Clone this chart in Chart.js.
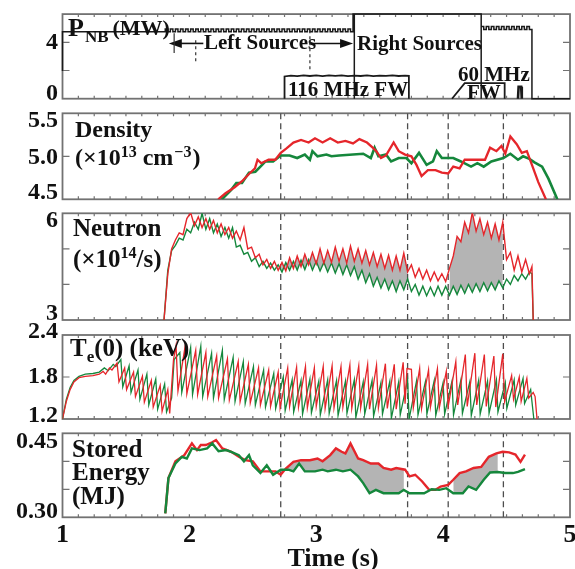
<!DOCTYPE html>
<html><head><meta charset="utf-8">
<script src="https://cdn.jsdelivr.net/npm/chart.js@4/dist/chart.umd.min.js"></script>
<style>
html,body{margin:0;padding:0;background:#fff;}
#wrap{position:relative;width:575px;height:569px;overflow:hidden;background:#fff;}
#wrap canvas{position:absolute;left:0;top:0;}
</style></head><body><div id="wrap"></div>
<script>
// ---------------- DATA ----------------
const timeTicks = [1, 2, 3, 4, 5];
const timeTickLabels = ['1', '2', '3', '4', '5'];
const dashTimes = [2.72, 3.72, 4.04, 4.475];
const fillSpans = [[2.72, 3.72], [4.04, 4.475]];

// NBI power (MW), step-after trace
const pnbTrace = [[1.00,1.96],[1.81,4.75],[1.83,4.95],[1.85,4.75],[1.87,4.95],[1.89,4.75],[1.91,4.95],[1.93,4.75],[1.95,4.95],[1.97,4.75],[1.99,4.95],
[2.01,4.75],[2.03,4.95],[2.05,4.75],[2.07,4.95],[2.09,4.75],[2.11,4.95],[2.13,4.75],[2.15,4.95],[2.17,4.75],[2.19,4.95],[2.21,4.75],[2.23,4.95],[2.25,4.75],[2.27,4.95],[2.29,4.75],
[2.31,4.95],[2.33,4.75],[2.35,4.95],[2.37,4.75],[2.39,4.95],[2.41,4.75],[2.43,4.95],[2.45,4.75],[2.47,4.95],[2.49,4.75],[2.51,4.95],[2.53,4.75],[2.55,4.95],[2.57,4.75],[2.59,4.95],
[2.61,4.75],[2.63,4.95],[2.65,4.75],[2.67,4.95],[2.69,4.75],[2.71,4.95],[2.73,4.75],[2.75,4.95],[2.77,4.75],[2.79,4.95],[2.81,4.75],[2.83,4.95],[2.85,4.75],[2.87,4.95],[2.89,4.75],
[2.91,4.95],[2.93,4.75],[2.95,4.95],[2.97,4.75],[2.99,4.95],[3.01,4.75],[3.03,4.95],[3.05,4.75],[3.07,4.95],[3.09,4.75],[3.11,4.95],[3.13,4.75],[3.15,4.95],[3.17,4.75],[3.19,4.95],
[3.21,4.75],[3.23,4.95],[3.25,4.75],[3.27,4.95],[3.29,4.75],[3.30,6.0],[3.30,0],[3.30,4.77],[4.30,6.0],[4.30,0],[4.30,4.90],
[4.32,5.12],[4.34,4.90],[4.36,5.12],[4.38,4.90],[4.40,5.12],[4.42,4.90],[4.44,5.12],[4.46,4.90],[4.48,5.12],[4.50,4.90],[4.52,5.12],[4.54,4.90],[4.56,5.12],[4.58,4.90],[4.60,5.12],
[4.62,4.90],[4.64,5.12],[4.66,4.90],[4.68,5.12],[4.70,4.90],[4.705,0],[5.00,0]];
const fw116 = [[2.75,0],[2.75,1.58],[2.80,1.64],[2.85,1.60],[2.90,1.66],[2.95,1.61],[3.00,1.65],[3.05,1.60],[3.10,1.66],[3.15,1.62],[3.20,1.65],[3.25,1.60],[3.30,1.64],[3.35,1.61],[3.40,1.66],[3.45,1.60],[3.50,1.64],[3.55,1.62],[3.60,1.65],[3.65,1.61],[3.70,1.64],[3.73,1.62],[3.73,0]];
const fw60 = [[4.07,0],[4.17,1.10],[4.485,1.10],[4.485,0]];
const fw60Spike = [[4.59,0],[4.595,0.85],[4.615,0.85],[4.62,0]];

// Density (1e13 cm^-3)
const densRed = [[2.227,4.50],[2.285,4.57],[2.357,4.64],[2.415,4.71],[2.474,4.80],[2.517,4.86],[2.537,4.96],[2.566,4.92],[2.624,4.96],[2.677,4.96],[2.72,5.04],[2.763,5.09],[2.82,5.16],[2.88,5.19],[2.94,5.16],[2.99,5.21],[3.05,5.16],[3.11,5.21],[3.17,5.16],[3.23,5.18],[3.29,5.15],[3.34,5.20],[3.40,5.16],[3.445,5.10],[3.474,5.06],[3.51,4.98],[3.55,5.01],[3.61,5.16],[3.65,5.06],[3.70,5.02],[3.75,5.00],[3.79,4.90],[3.83,4.77],[3.88,4.84],[3.94,4.84],[3.99,4.81],[4.04,4.80],[4.08,4.88],[4.13,4.86],[4.17,4.96],[4.24,4.96],[4.33,4.96],[4.37,5.10],[4.42,5.06],[4.46,5.12],[4.49,5.03],[4.53,5.23],[4.58,5.14],[4.62,5.04],[4.66,5.06],[4.70,4.90],[4.75,4.70],[4.81,4.50]];
const densGreen = [[2.256,4.50],[2.33,4.61],[2.37,4.69],[2.415,4.69],[2.47,4.81],[2.52,4.82],[2.56,4.88],[2.60,4.94],[2.66,4.94],[2.72,5.01],[2.79,5.01],[2.85,4.98],[2.91,5.02],[2.95,4.96],[2.97,5.06],[3.01,5.00],[3.08,5.02],[3.12,5.00],[3.18,5.01],[3.37,5.03],[3.43,4.98],[3.46,5.10],[3.49,5.00],[3.55,5.02],[3.59,4.94],[3.65,4.98],[3.71,4.98],[3.75,4.92],[3.81,5.04],[3.87,4.90],[3.92,4.94],[3.95,5.06],[3.99,4.98],[4.08,4.98],[4.14,4.94],[4.22,4.88],[4.27,4.92],[4.32,4.88],[4.38,4.94],[4.475,4.98],[4.53,5.03],[4.59,4.96],[4.63,5.00],[4.68,4.97],[4.72,4.93],[4.78,4.88],[4.83,4.74],[4.90,4.50]];

// Neutron rate (1e14 /s)
const nTime = [1.80,1.83,1.86,1.89,1.92,1.95,1.98,2.01,2.04,2.07,2.10,2.13,2.16,2.19,2.22,2.25,2.28,2.31,2.34,2.37,2.40,2.43,2.46,2.49,2.52,2.55,2.58,2.61,2.64,2.67,2.70,2.73,2.76,2.79,2.82,2.85,2.88,2.91,2.94,2.97,3.00,3.03,3.06,3.09,3.12,3.15,3.18,3.21,3.24,3.27,3.30,3.33,3.36,3.39,3.42,3.45,3.48,3.51,3.54,3.57,3.60,3.63,3.66,3.69,3.72,3.75,3.78,3.81,3.84,3.87,3.90,3.93,3.96,3.99,4.02,4.05,4.08,4.11,4.14,4.17,4.20,4.23,4.26,4.29,4.32,4.35,4.38,4.41,4.44,4.47,4.50,4.53,4.56,4.59,4.62,4.65,4.68,4.70,4.71];
const nRed = [3.00,4.30,5.00,5.25,5.45,5.40,5.85,6.02,5.65,5.90,5.60,5.85,5.55,5.80,5.45,5.70,5.40,5.60,5.30,5.50,5.25,5.60,5.00,5.05,4.75,4.85,4.55,4.70,4.45,4.65,4.40,4.62,4.38,4.75,4.45,4.80,4.50,4.85,4.55,4.90,4.58,5.00,4.60,4.95,4.62,5.05,4.65,5.00,4.60,5.08,4.65,5.00,4.60,4.95,4.55,4.90,4.50,4.85,4.45,4.82,4.40,4.80,4.40,4.88,4.35,4.55,4.20,4.45,4.15,4.40,4.10,4.35,4.10,4.30,4.08,4.45,4.80,5.35,5.20,5.75,5.45,6.02,5.50,5.85,5.40,5.75,5.30,5.70,5.25,5.75,4.70,4.90,4.40,4.80,4.35,4.70,4.30,4.50,3.00];
const nGreen = [3.00,4.40,4.95,5.10,5.30,5.25,5.55,5.45,5.75,5.55,6.00,5.55,5.85,5.45,5.70,5.35,5.60,5.30,5.60,5.05,5.10,4.85,4.90,4.65,4.75,4.50,4.65,4.45,4.60,4.40,4.55,4.35,4.62,4.40,4.65,4.40,4.68,4.42,4.70,4.40,4.65,4.38,4.62,4.35,4.60,4.32,4.58,4.28,4.55,4.25,4.50,4.15,4.40,4.05,4.30,3.95,4.20,3.90,4.15,3.85,4.10,3.80,4.10,3.85,4.15,3.80,4.00,3.70,3.95,3.68,3.92,3.68,3.95,3.70,3.95,3.70,3.95,3.72,3.98,3.75,4.00,3.78,4.02,3.80,4.05,3.82,4.05,3.85,4.10,3.90,4.15,4.00,4.25,4.10,4.30,4.15,4.35,4.30,3.00];

// Central electron temperature (keV)
const teRed = [[1.00,1.20],[1.03,1.45],[1.06,1.62],[1.09,1.73],[1.13,1.79],[1.18,1.81],[1.24,1.82],[1.29,1.84],[1.32,1.88],[1.34,1.84],[1.37,1.93],[1.39,1.90],[1.43,2.00],
[1.445,1.73],[1.49,1.93],[1.505,1.62],[1.56,1.87],[1.575,1.52],[1.63,1.81],[1.645,1.44],[1.70,1.75],[1.715,1.37],[1.77,1.68],[1.785,1.31],[1.83,1.62],[1.845,1.28],
[1.875,2.05],[1.895,2.25],[1.91,1.60],[1.965,2.22],[1.98,1.56],[2.05,2.18],[2.065,1.55],[2.13,2.15],[2.145,1.52],[2.215,2.10],[2.23,1.50],[2.30,2.06],[2.315,1.47],[2.385,2.02],[2.40,1.45],[2.465,1.98],[2.48,1.43],[2.545,1.93],[2.56,1.40],[2.625,1.90],[2.64,1.38],[2.70,1.87],[2.715,1.36],
[2.775,1.93],[2.79,1.38],[2.845,1.94],[2.86,1.37],[2.915,1.95],[2.93,1.36],[2.985,1.93],[3.00,1.38],[3.055,1.95],[3.07,1.35],[3.125,1.96],[3.14,1.36],[3.195,1.95],[3.21,1.37],[3.265,1.97],[3.28,1.35],[3.335,1.96],[3.35,1.36],[3.405,1.98],[3.42,1.34],[3.475,1.97],[3.49,1.36],[3.545,1.99],[3.56,1.35],[3.615,1.98],[3.63,1.34],[3.685,2.01],[3.70,1.42],[3.715,1.92],[3.75,1.91],[3.765,1.36],[3.815,1.92],[3.83,1.35],[3.885,1.90],[3.90,1.37],[3.955,1.92],[3.97,1.36],[4.025,1.88],[4.04,1.38],[4.10,2.02],[4.115,1.40],[4.175,2.12],[4.19,1.38],[4.25,2.14],[4.265,1.40],[4.325,2.12],[4.34,1.38],[4.40,2.10],[4.415,1.37],[4.47,2.13],[4.485,1.45],[4.54,1.82],[4.555,1.48],[4.60,1.80],[4.615,1.45],[4.66,1.78],[4.675,1.50],[4.71,1.58],[4.725,1.52],[4.74,1.20]];
const teGreen = [[1.00,1.20],[1.03,1.48],[1.06,1.65],[1.09,1.75],[1.13,1.81],[1.18,1.84],[1.24,1.85],[1.29,1.87],[1.33,1.93],[1.36,1.89],[1.40,1.98],[1.42,1.95],[1.46,2.05],
[1.475,1.66],[1.525,1.96],[1.54,1.58],[1.595,1.90],[1.61,1.48],[1.665,1.84],[1.68,1.40],[1.735,1.77],[1.75,1.34],[1.805,1.70],[1.82,1.30],[1.86,1.50],[1.88,2.05],[1.925,2.15],[1.94,1.58],[2.01,2.22],[2.025,1.55],[2.09,2.24],[2.105,1.52],[2.175,2.14],[2.19,1.50],[2.26,2.18],[2.275,1.48],[2.345,2.08],[2.36,1.45],[2.425,2.02],[2.44,1.42],[2.505,1.95],[2.52,1.40],[2.585,1.90],[2.60,1.37],[2.665,1.85],[2.68,1.35],[2.74,1.80],[2.755,1.32],
[2.81,1.76],[2.822,1.30],[2.88,1.75],[2.892,1.27],[2.95,1.77],[2.962,1.29],[3.02,1.74],[3.032,1.26],[3.09,1.76],[3.102,1.28],[3.16,1.75],[3.172,1.25],[3.23,1.74],[3.242,1.28],[3.30,1.76],[3.312,1.22],[3.37,1.73],[3.382,1.27],[3.44,1.75],[3.452,1.24],[3.51,1.72],[3.522,1.27],[3.58,1.74],[3.592,1.21],[3.65,1.73],[3.662,1.26],[3.72,1.76],[3.732,1.20],[3.79,1.74],[3.802,1.26],[3.86,1.73],[3.872,1.27],[3.93,1.75],[3.942,1.25],[4.00,1.72],[4.012,1.27],[4.07,1.74],[4.082,1.26],[4.14,1.76],[4.152,1.28],[4.21,1.73],[4.222,1.25],[4.28,1.75],[4.292,1.27],[4.35,1.74],[4.362,1.28],[4.42,1.76],[4.432,1.30],[4.49,1.72],[4.502,1.35],[4.56,1.76],[4.572,1.40],[4.63,1.78],[4.642,1.42],[4.69,1.62],[4.70,1.45],[4.715,1.20]];

// Stored energy (MJ)
const weRed = [[1.81,0.307],[1.835,0.370],[1.89,0.400],[1.96,0.411],[2.02,0.432],[2.06,0.420],[2.09,0.429],[2.13,0.429],[2.18,0.434],[2.21,0.438],[2.26,0.423],[2.33,0.417],[2.39,0.408],[2.44,0.402],[2.50,0.400],[2.56,0.382],[2.62,0.382],[2.68,0.382],[2.72,0.376],[2.76,0.387],[2.82,0.399],[2.88,0.402],[2.95,0.402],[3.01,0.405],[3.05,0.400],[3.11,0.411],[3.155,0.423],[3.20,0.417],[3.23,0.414],[3.27,0.432],[3.33,0.405],[3.37,0.402],[3.43,0.396],[3.49,0.396],[3.53,0.388],[3.59,0.385],[3.63,0.388],[3.70,0.385],[3.735,0.373],[3.78,0.376],[3.835,0.364],[3.89,0.349],[3.94,0.349],[3.98,0.355],[4.04,0.358],[4.08,0.367],[4.13,0.379],[4.18,0.382],[4.24,0.388],[4.30,0.390],[4.36,0.408],[4.42,0.414],[4.47,0.417],[4.52,0.416],[4.57,0.412],[4.61,0.399],[4.645,0.412]];
const weGreen = [[1.81,0.307],[1.835,0.370],[1.89,0.396],[1.94,0.408],[1.98,0.405],[2.02,0.423],[2.08,0.420],[2.14,0.423],[2.18,0.432],[2.23,0.418],[2.29,0.420],[2.33,0.417],[2.39,0.411],[2.43,0.400],[2.47,0.411],[2.50,0.393],[2.56,0.379],[2.61,0.393],[2.66,0.376],[2.72,0.385],[2.78,0.385],[2.82,0.382],[2.865,0.396],[2.91,0.382],[2.99,0.382],[3.05,0.385],[3.09,0.382],[3.155,0.385],[3.21,0.382],[3.27,0.385],[3.33,0.373],[3.37,0.361],[3.42,0.343],[3.47,0.349],[3.53,0.343],[3.59,0.343],[3.65,0.343],[3.69,0.349],[3.735,0.343],[3.79,0.343],[3.85,0.343],[3.91,0.350],[3.97,0.349],[4.025,0.352],[4.08,0.343],[4.155,0.343],[4.20,0.355],[4.26,0.349],[4.32,0.367],[4.37,0.380],[4.43,0.381],[4.49,0.379],[4.55,0.379],[4.59,0.381],[4.645,0.386]];

// ---------------- STYLE / LAYOUT ----------------
const W = 575, H = 569, LEFT = 62.5, RIGHT = 570;
const RED = '#e5262b', GREEN = '#15873c', GRAY = '#b4b4b4', FRAME = '#727272', INK = '#111';
const FONT = '"Liberation Serif","Times New Roman",serif';

const xy = a => a.map(p => ({x: p[0], y: p[1]}));
const zipT = (t, v) => t.map((x, i) => [x, v[i]]);
const within = (a, lo, hi) => a.filter(p => p[0] >= lo && p[0] <= hi);

function txt(ctx, s, x, y, size, align) {
  ctx.font = 'bold ' + size + 'px ' + FONT;
  ctx.textAlign = align || 'left';
  ctx.textBaseline = 'alphabetic';
  ctx.fillStyle = INK;
  ctx.fillText(s, x, y);
  return ctx.measureText(s).width;
}
// sequential run of [text, size, baselineShift, gapAfter]
function run(ctx, parts, x, y) {
  parts.forEach(p => { x += txt(ctx, p[0], x, y + (p[2] || 0), p[1]) + (p[3] || 0); });
}

function line(data, color, width, extra) {
  return Object.assign({data: xy(data), borderColor: color, borderWidth: width, pointRadius: 0, tension: 0, fill: false}, extra || {});
}
function dashSets(yMin, yMax) {
  return dashTimes.map(t => ({data: [{x: t, y: yMin}, {x: t, y: yMax}], borderColor: '#4d4d4d', borderWidth: 1.3,
    borderDash: [6, 4], pointRadius: 0, fill: false, order: 5}));
}
function fillSets(red, green) {
  const out = [];
  fillSpans.forEach(s => {
    out.push({data: xy(within(red, s[0], s[1])), borderColor: 'rgba(0,0,0,0)', borderWidth: 0, pointRadius: 0, fill: '+1', backgroundColor: GRAY, order: 10});
    out.push({data: xy(within(green, s[0], s[1])), borderColor: 'rgba(0,0,0,0)', borderWidth: 0, pointRadius: 0, fill: false, order: 11});
  });
  return out;
}

const framePlugin = {
  id: 'frame',
  beforeDatasetsDraw(chart) {
    const p = chart.config.options.plugins.frame;
    const {ctx, chartArea: a} = chart, x = chart.scales.x, y = chart.scales.y;
    ctx.save();
    ctx.strokeStyle = FRAME; ctx.lineWidth = 1.8;
    ctx.strokeRect(a.left, a.top, a.right - a.left, a.bottom - a.top);
    ctx.lineWidth = 1.2;
    ctx.beginPath();
    p.yTicks.forEach(v => {
      const py = y.getPixelForValue(v);
      ctx.moveTo(a.left, py); ctx.lineTo(a.left + 7, py);
      ctx.moveTo(a.right, py); ctx.lineTo(a.right - 7, py);
    });
    for (let t = 1.125; t < 4.99; t += 0.125) {
      const px = x.getPixelForValue(t);
      ctx.moveTo(px, a.top); ctx.lineTo(px, a.top + 3);
      ctx.moveTo(px, a.bottom); ctx.lineTo(px, a.bottom - 3);
    }
    ctx.stroke();
    ctx.restore();
  },
  afterDraw(chart) {
    const p = chart.config.options.plugins.frame;
    const {ctx} = chart, x = chart.scales.x, y = chart.scales.y;
    ctx.save();
    p.yLabels.forEach(l => txt(ctx, l[1], 58, y.getPixelForValue(l[0]) + l[2], 24, 'right'));
    if (p.showX) {
      timeTicks.forEach((t, i) => txt(ctx, timeTickLabels[i], x.getPixelForValue(t), 542, 26, 'center'));
      txt(ctx, 'Time (s)', 333, 566, 26, 'center');
    }
    p.texts.forEach(s => txt(ctx, s[0], s[1], s[2], s[3], 'left'));
    if (p.extra) p.extra(chart, ctx, x, y);
    ctx.restore();
  }
};

function arrow(ctx, x0, x1, yy) {
  const dir = Math.sign(x1 - x0);
  ctx.strokeStyle = INK; ctx.fillStyle = INK; ctx.lineWidth = 1.6;
  ctx.beginPath(); ctx.moveTo(x0, yy); ctx.lineTo(x1 - dir * 10, yy); ctx.stroke();
  ctx.beginPath(); ctx.moveTo(x1, yy); ctx.lineTo(x1 - dir * 13, yy - 4.5); ctx.lineTo(x1 - dir * 13, yy + 4.5); ctx.closePath(); ctx.fill();
}

const panels = [
  {top: 14.1, bottom: 98.7, yMin: 0, yMax: 6, yTicks: [2, 4], yLabels: [[4, '4', 7], [0, '0', 1]],
   texts: [['Left Sources', 204, 49, 21], ['Right Sources', 357, 50, 21], ['116 MHz FW', 288, 96, 21], ['60 MHz', 458, 81, 21], ['FW', 467, 99, 21]],
   datasets: [
     line(pnbTrace, '#1a1a1a', 1.5, {stepped: 'after', clip: 2}),
     line(fw116, '#1a1a1a', 1.8, {clip: 2}),
     line(fw60, '#1a1a1a', 1.8, {clip: 2}),
     line(fw60Spike, '#1a1a1a', 2.6, {clip: 2})
   ],
   extra(chart, ctx, x, y) {
     run(ctx, [['P', 26, 0, 1], ['NB', 17, 6, 4], ['(MW)', 22, -1]], 68, 36);
     const ay = y.getPixelForValue(3.92);
     arrow(ctx, x.getPixelForValue(2.11), x.getPixelForValue(1.838), ay);
     arrow(ctx, x.getPixelForValue(2.96), x.getPixelForValue(3.29), ay);
     ctx.strokeStyle = '#333'; ctx.lineWidth = 1.2;
     ctx.beginPath();
     ctx.moveTo(x.getPixelForValue(1.88), y.getPixelForValue(4.65)); ctx.lineTo(x.getPixelForValue(1.88), y.getPixelForValue(3.25));
     ctx.stroke();
     ctx.setLineDash([3, 3]);
     ctx.beginPath();
     ctx.moveTo(x.getPixelForValue(2.05), y.getPixelForValue(4.15)); ctx.lineTo(x.getPixelForValue(2.05), y.getPixelForValue(2.6));
     ctx.moveTo(x.getPixelForValue(2.95), y.getPixelForValue(4.85)); ctx.lineTo(x.getPixelForValue(2.95), y.getPixelForValue(1.9));
     ctx.stroke();
     ctx.setLineDash([]);
   }},
  {top: 113.3, bottom: 199.3, yMin: 4.5, yMax: 5.5, yTicks: [5.0], yLabels: [[5.5, '5.5', 14], [5.0, '5.0', 8], [4.5, '4.5', 0]],
   texts: [['Density', 75, 137, 24]],
   datasets: [line(densGreen, GREEN, 2.6, {order: 1}), line(densRed, RED, 2.3, {order: 0})].concat(dashSets(4.5, 5.5)),
   extra(chart, ctx) {
     run(ctx, [['(\u00d710', 24, 0, 0], ['13', 16, -8, 6], ['cm', 24, 0, 1], ['\u22123', 16, -8, 1], [')', 24, 0]], 75, 165);
   }},
  {top: 213.3, bottom: 320, yMin: 3, yMax: 6, yTicks: [4, 5], yLabels: [[6, '6', 14], [3, '3', 0]],
   texts: [['Neutron', 73, 236, 25]],
   datasets: [line(zipT(nTime, nGreen), GREEN, 1.4, {order: 1}), line(zipT(nTime, nRed), RED, 1.4, {order: 0})]
     .concat(dashSets(3, 6)).concat(fillSets(zipT(nTime, nRed), zipT(nTime, nGreen))),
   extra(chart, ctx) {
     run(ctx, [['(\u00d710', 25, 0, 0], ['14', 16, -9, 0], ['/s)', 25, 0]], 73, 267);
   }},
  {top: 335, bottom: 419, yMin: 1.2, yMax: 2.4, yTicks: [1.8], yLabels: [[2.4, '2.4', 3], [1.8, '1.8', 6], [1.2, '1.2', 3]],
   texts: [],
   datasets: [line(teGreen, GREEN, 1.3, {order: 1}), line(teRed, RED, 1.3, {order: 0})].concat(dashSets(1.2, 2.4)),
   extra(chart, ctx) {
     run(ctx, [['T', 25, 0, 0], ['e', 17, 6, 0], ['(0) (keV)', 25, 0]], 70, 356);
   }},
  {top: 433.3, bottom: 517.3, yMin: 0.30, yMax: 0.45, yTicks: [0.35, 0.40], yLabels: [[0.45, '0.45', 15], [0.30, '0.30', 1]],
   texts: [['Stored', 72, 457, 25], ['Energy', 72, 480, 25], ['(MJ)', 72, 504, 25]], showX: true,
   datasets: [line(weRed, RED, 2.4, {order: 1}), line(weGreen, GREEN, 2.4, {order: 0})]
     .concat(dashSets(0.30, 0.45)).concat(fillSets(weRed, weGreen))}
];

const wrap = document.getElementById('wrap');
panels.forEach(p => {
  const cv = document.createElement('canvas');
  cv.width = W; cv.height = H; cv.style.width = W + 'px'; cv.style.height = H + 'px';
  wrap.appendChild(cv);
  new Chart(cv, {
    type: 'line',
    data: {datasets: p.datasets},
    options: {
      responsive: false, animation: false, devicePixelRatio: 1, events: [],
      layout: {padding: {left: LEFT, right: W - RIGHT, top: p.top, bottom: H - p.bottom}},
      scales: {
        x: {type: 'linear', min: 1, max: 5, display: false},
        y: {type: 'linear', min: p.yMin, max: p.yMax, display: false}
      },
      plugins: {legend: {display: false}, tooltip: {enabled: false},
        frame: {yTicks: p.yTicks, yLabels: p.yLabels, texts: p.texts, showX: !!p.showX, extra: p.extra}}
    },
    plugins: [framePlugin]
  });
});
</script></body></html>
